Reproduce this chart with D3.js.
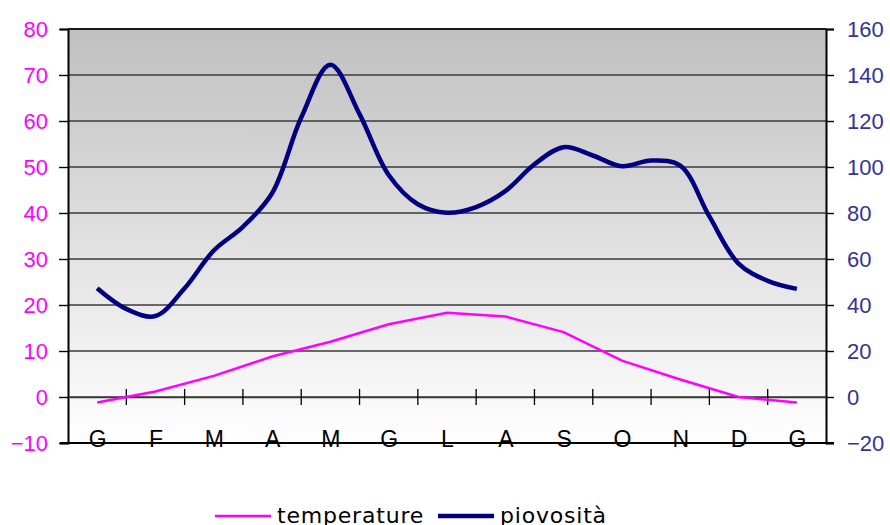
<!DOCTYPE html>
<html>
<head>
<meta charset="utf-8">
<script src="https://cdnjs.cloudflare.com/ajax/libs/d3/7.8.5/d3.min.js"></script>
<style>
  body { margin: 0; background: #fff; }
  svg { display: block; font-family: "DejaVu Sans", sans-serif; }
</style>
</head>
<body>
<div id="chart"></div>
<script>
// month labels (Italian initials), first month repeated at the end
var months = ["G", "F", "M", "A", "M", "G", "L", "A", "S", "O", "N", "D", "G"];

// temperature, one value per month (left axis)
var temperature = [-1.2, 1.2, 4.6, 8.8, 12, 15.8, 18.3, 17.5, 14.1, 7.9, 3.8, 0, -1.2];

// rainfall read every half month (right axis)
var rainStep = [0, 0.5, 1, 1.5, 2, 2.5, 3, 3.5, 4, 4.5, 5, 5.5, 6, 6.5, 7, 7.5, 8, 8.5, 9, 9.5, 10, 10.5, 11, 11.5, 12];
var rainfall = [47.3, 38.3, 35.2, 47.3, 63.7, 74, 88.6, 121.5, 144.5, 123, 96.5, 83.8, 80.1,
                82.6, 89.5, 101.2, 108.6, 105, 100.3, 102.8, 100.6, 78.5, 58, 50.5, 47];

var leftTicks = [-10, 0, 10, 20, 30, 40, 50, 60, 70, 80];
var rightTicks = [-20, 0, 20, 40, 60, 80, 100, 120, 140, 160];

var width = 890, height = 525;
var pLeft = 68, pRight = 826, pTop = 29, pBottom = 443;

var svg = d3.select("#chart").append("svg")
  .attr("width", width)
  .attr("height", height);

var grad = svg.append("defs").append("linearGradient")
  .attr("id", "bg").attr("x1", 0).attr("y1", 0).attr("x2", 0).attr("y2", 1);
grad.append("stop").attr("offset", "0%").attr("stop-color", "#c0c0c0");
grad.append("stop").attr("offset", "100%").attr("stop-color", "#ffffff");

var x = d3.scalePoint()
  .domain(d3.range(months.length))
  .range([pLeft, pRight])
  .padding(0.5);
var step = x.step();
var xLin = d3.scaleLinear().domain([0, 12]).range([x(0), x(12)]);

var yL = d3.scaleLinear().domain([-10, 80]).range([pBottom, pTop]);
var yR = d3.scaleLinear().domain([-20, 160]).range([pBottom, pTop]);

svg.append("rect")
  .attr("x", pLeft).attr("y", pTop)
  .attr("width", pRight - pLeft).attr("height", pBottom - pTop)
  .attr("fill", "url(#bg)");

// gridlines
svg.append("g").selectAll("line")
  .data(leftTicks.filter(function(d) { return d != -10; }))
  .enter().append("line")
  .attr("x1", pLeft).attr("x2", pRight)
  .attr("y1", function(d) { return yL(d); })
  .attr("y2", function(d) { return yL(d); })
  .attr("stroke", "#3a3a3a")
  .attr("stroke-width", 1.4);

// left axis
var axL = svg.append("g")
  .attr("transform", "translate(" + pLeft + ",0)")
  .call(d3.axisLeft(yL).tickValues(leftTicks).tickSize(8).tickPadding(12));
axL.select(".domain").attr("stroke", "#000").attr("stroke-width", 2);
axL.selectAll(".tick line").attr("stroke", "#000").attr("stroke-width", 1.4).attr("x2", -9);
axL.selectAll("text")
  .attr("x", -20)
  .attr("fill", "#ff00ff")
  .style("font-size", "22px");

// right axis
var axR = svg.append("g")
  .attr("transform", "translate(" + pRight + ",0)")
  .call(d3.axisRight(yR).tickValues(rightTicks).tickSize(8).tickPadding(12));
axR.select(".domain").attr("stroke", "#000").attr("stroke-width", 2);
axR.selectAll(".tick line").attr("stroke", "#000").attr("stroke-width", 1.4);
axR.selectAll("text")
  .attr("x", 21)
  .attr("fill", "#333399")
  .style("font-size", "22px");

// top and bottom frame
svg.append("line")
  .attr("x1", pLeft).attr("x2", pRight).attr("y1", pTop).attr("y2", pTop)
  .attr("stroke", "#000").attr("stroke-width", 1.4);
svg.append("line")
  .attr("x1", pLeft - 8).attr("x2", pRight + 8).attr("y1", pBottom).attr("y2", pBottom)
  .attr("stroke", "#000").attr("stroke-width", 2);

// category axis sits on zero, labels at the bottom
var axX = svg.append("g")
  .attr("transform", "translate(0," + yL(0) + ")")
  .call(d3.axisBottom(x).tickSize(0).tickFormat(function(i) { return months[i]; }));
axX.select(".domain").attr("stroke", "#3a3a3a").attr("stroke-width", 1.4);
axX.selectAll("text")
  .attr("y", pBottom - yL(0) - 12)
  .attr("dy", "0.71em")
  .attr("fill", "#000")
  .style("font-size", "23px");
axX.selectAll(".sep")
  .data(d3.range(1, months.length))
  .enter().append("line")
  .attr("class", "sep")
  .attr("x1", function(i) { return x(i) - step / 2; })
  .attr("x2", function(i) { return x(i) - step / 2; })
  .attr("y1", -8).attr("y2", 8)
  .attr("stroke", "#000").attr("stroke-width", 1.3);

// temperature line
var tLine = d3.line()
  .x(function(d, i) { return x(i); })
  .y(function(d) { return yL(d); });
svg.append("path")
  .datum(temperature)
  .attr("d", tLine)
  .attr("fill", "none")
  .attr("stroke", "#ff00ff")
  .attr("stroke-width", 2.5);

// rainfall line
var rLine = d3.line()
  .curve(d3.curveCatmullRom.alpha(0.5))
  .x(function(d, i) { return xLin(rainStep[i]); })
  .y(function(d) { return yR(d); });
svg.append("path")
  .datum(rainfall)
  .attr("d", rLine)
  .attr("fill", "none")
  .attr("stroke", "#000080")
  .attr("stroke-width", 4.5)
  .attr("stroke-linejoin", "round");

// legend
var legend = [
  { name: "temperature", color: "#ff00ff", w: 2.5, x: 215 },
  { name: "piovosità", color: "#000080", w: 4.5, x: 438 }
];
var lg = svg.append("g").selectAll("g")
  .data(legend)
  .enter().append("g")
  .attr("transform", function(d) { return "translate(" + d.x + ",516)"; });
lg.append("line")
  .attr("x1", 0).attr("x2", 56)
  .attr("stroke", function(d) { return d.color; })
  .attr("stroke-width", function(d) { return d.w; });
lg.append("text")
  .attr("x", 62)
  .attr("y", 7)
  .style("font-size", "22px")
  .style("letter-spacing", "0.8px")
  .attr("fill", "#000")
  .text(function(d) { return d.name; });
</script>
</body>
</html>
